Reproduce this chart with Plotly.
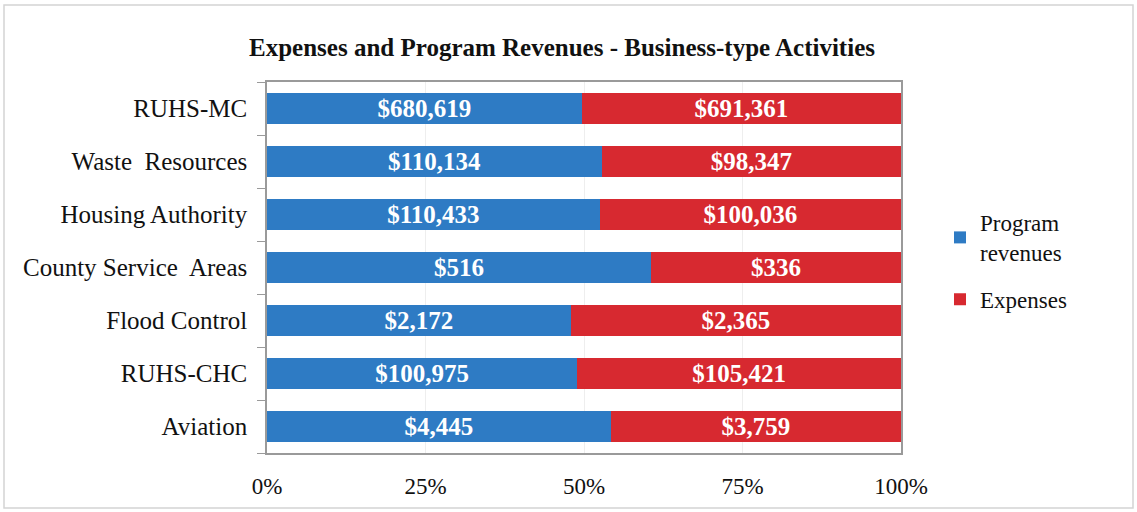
import plotly.graph_objects as go

categories = ["RUHS-MC", "Waste  Resources", "Housing Authority", "County Service  Areas",
              "Flood Control", "RUHS-CHC", "Aviation"]
program_revenues = [680619, 110134, 110433, 516, 2172, 100975, 4445]
expenses = [691361, 98347, 100036, 336, 2365, 105421, 3759]
x_ticks = [0, 25, 50, 75, 100]
x_tick_labels = ["0%", "25%", "50%", "75%", "100%"]

W, H = 1137, 512
L, R, T, B = 267, 901, 82, 453

FONT = "Liberation Serif"
fig = go.Figure()
fig.add_trace(go.Bar(
    y=categories, x=program_revenues, orientation="h", name="Program<br>revenues",
    legendgroup="a",
    marker=dict(color="#2E7BC4", line=dict(width=0)),
    text=[f"${v:,}" for v in program_revenues], textposition="inside",
    insidetextanchor="middle", textfont=dict(family=FONT, size=25, color="white", weight="bold"),
    hoverinfo="skip"))
fig.add_trace(go.Bar(
    y=categories, x=expenses, orientation="h", name="Expenses",
    legendgroup="b",
    marker=dict(color="#D72930", line=dict(width=0)),
    text=[f"${v:,}" for v in expenses], textposition="inside",
    insidetextanchor="middle", textfont=dict(family=FONT, size=25, color="white", weight="bold"),
    hoverinfo="skip"))

pw, ph = R - L, B - T
fig.add_shape(type="rect", xref="paper", yref="paper",
              x0=(4 - L) / pw, x1=(1133 - L) / pw, y0=(B - 508) / ph, y1=(B - 5) / ph,
              line=dict(color="#d4d4d4", width=1.5), fillcolor="rgba(0,0,0,0)", layer="below")

fig.update_layout(
    width=W, height=H,
    barmode="stack", barnorm="percent", bargap=0.43,
    uniformtext=dict(minsize=25, mode="show"),
    margin=dict(l=L, r=W - R, t=T, b=H - B, pad=0, autoexpand=False),
    paper_bgcolor="white", plot_bgcolor="white",
    font=dict(family=FONT, size=24, color="#111111"),
    title=dict(text="<b>Expenses and Program Revenues - Business-type Activities</b>",
               x=562 / W, xanchor="center", y=1 - 47 / H, yanchor="middle",
               xref="container", yref="container",
               font=dict(family=FONT, size=25, color="#111111")),
    legend=dict(x=940 / W, y=1 - 201 / H, xref="container", yref="container",
                xanchor="left", yanchor="top", traceorder="grouped",
                font=dict(family=FONT, size=23, color="#111111"),
                itemwidth=30, tracegroupgap=14),
    showlegend=True,
    xaxis=dict(range=[0, 100], tickvals=x_ticks, ticktext=x_tick_labels,
               showgrid=True, gridcolor="#eeeeee", gridwidth=1,
               showline=True, linecolor="#9a9a9a", linewidth=1.5, mirror=True,
               ticks="", ticklabelstandoff=12, zeroline=False, automargin=False,
               tickfont=dict(family=FONT, size=23, color="#111111")),
    yaxis=dict(categoryorder="array", categoryarray=categories[::-1],
               showline=True, linecolor="#9a9a9a", linewidth=1.5, mirror=True,
               ticks="outside", tickson="boundaries", ticklen=8, tickcolor="#9a9a9a",
               ticklabelstandoff=13, showgrid=False, automargin=False,
               tickfont=dict(family=FONT, size=25, color="#111111")),
)

fig.write_html("out.html", config={"displayModeBar": False},
               post_script="document.body.style.margin='0px';")
